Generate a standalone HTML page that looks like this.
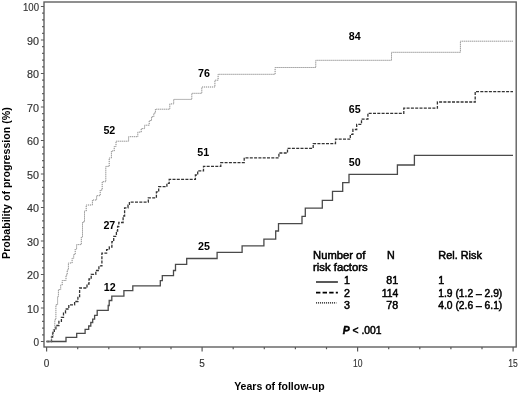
<!DOCTYPE html>
<html><head><meta charset="utf-8">
<style>
html,body{margin:0;padding:0;background:#fff;}
svg{display:block;font-family:"Liberation Sans",sans-serif;}
.tk{font-size:10px;fill:#333;stroke:#333;stroke-width:0.15;}
.lb{font-size:10.7px;font-weight:bold;fill:#000;}
.lg{font-size:10.7px;fill:#000;stroke:#000;stroke-width:0.5;}
.ax{font-size:10.6px;font-weight:bold;fill:#000;}
</style></head>
<body>
<svg width="520" height="393" viewBox="0 0 520 393">
<rect width="520" height="393" fill="#fff"/>
<!-- frame -->
<rect x="44" y="2" width="472.2" height="345" fill="none" stroke="#5a5a5a" stroke-width="1.35"/>
<g id="ticks" stroke="#5a5a5a" stroke-width="1.2" fill="none"><path d="M44,341.50h-3.1M44,334.80h-1.9M44,328.10h-1.9M44,321.40h-1.9M44,314.70h-1.9M44,308.00h-3.1M44,301.30h-1.9M44,294.60h-1.9M44,287.90h-1.9M44,281.20h-1.9M44,274.50h-3.1M44,267.80h-1.9M44,261.10h-1.9M44,254.40h-1.9M44,247.70h-1.9M44,241.00h-3.1M44,234.30h-1.9M44,227.60h-1.9M44,220.90h-1.9M44,214.20h-1.9M44,207.50h-3.1M44,200.80h-1.9M44,194.10h-1.9M44,187.40h-1.9M44,180.70h-1.9M44,174.00h-3.1M44,167.30h-1.9M44,160.60h-1.9M44,153.90h-1.9M44,147.20h-1.9M44,140.50h-3.1M44,133.80h-1.9M44,127.10h-1.9M44,120.40h-1.9M44,113.70h-1.9M44,107.00h-3.1M44,100.30h-1.9M44,93.60h-1.9M44,86.90h-1.9M44,80.20h-1.9M44,73.50h-3.1M44,66.80h-1.9M44,60.10h-1.9M44,53.40h-1.9M44,46.70h-1.9M44,40.00h-3.1M44,33.30h-1.9M44,26.60h-1.9M44,19.90h-1.9M44,13.20h-1.9M44,6.50h-3.1M46.60,347v4.4M77.70,347v2.3M108.80,347v2.3M139.90,347v2.3M171.00,347v2.3M202.10,347v4.4M233.20,347v2.3M264.30,347v2.3M295.40,347v2.3M326.50,347v2.3M357.60,347v4.4M388.70,347v2.3M419.80,347v2.3M450.90,347v2.3M482.00,347v2.3M513.10,347v4.4"/></g>
<g id="ylabels" class="tk" text-anchor="end">
<text x="39" y="11.1" textLength="16" lengthAdjust="spacingAndGlyphs">100</text>
<text x="39" y="44.6" textLength="12" lengthAdjust="spacingAndGlyphs">90</text>
<text x="39" y="78.1" textLength="12" lengthAdjust="spacingAndGlyphs">80</text>
<text x="39" y="111.6" textLength="12" lengthAdjust="spacingAndGlyphs">70</text>
<text x="39" y="145.1" textLength="12" lengthAdjust="spacingAndGlyphs">60</text>
<text x="39" y="178.6" textLength="12" lengthAdjust="spacingAndGlyphs">50</text>
<text x="39" y="212.1" textLength="12" lengthAdjust="spacingAndGlyphs">40</text>
<text x="39" y="245.6" textLength="12" lengthAdjust="spacingAndGlyphs">30</text>
<text x="39" y="279.1" textLength="12" lengthAdjust="spacingAndGlyphs">20</text>
<text x="39" y="312.6" textLength="12" lengthAdjust="spacingAndGlyphs">10</text>
<text x="39" y="345.6">0</text>
</g>
<g id="xlabels" class="tk" text-anchor="middle">
<text x="46.6" y="367">0</text>
<text x="202.1" y="367">5</text>
<text x="357.8" y="367" textLength="9.5" lengthAdjust="spacingAndGlyphs">10</text>
<text x="513" y="367" textLength="9.5" lengthAdjust="spacingAndGlyphs">15</text>
</g>
<text class="ax" x="234.2" y="389.8" textLength="90.5" lengthAdjust="spacingAndGlyphs">Years of follow-up</text>
<text class="ax" transform="translate(10.3,258.9) rotate(-90)" textLength="151.6" lengthAdjust="spacingAndGlyphs">Probability of progression (%)</text>

<!-- curves -->
<path id="c1" fill="none" stroke="#4a4a4a" stroke-width="1.3" d="M46.5,341.5 H66 V337.4 H76.7 V333.3 H85.1 V329.3 H88.7 V326 H90.8 V322.5 H92.7 V319.1 H94.6 V315.3 H97.2 V310.4 H108.2 V305.5 H109.2 V300.5 H111.8 V296.2 H123.9 V290.7 H132.8 V285.8 H160.3 V280.7 H162.3 V275.6 H173.5 V270.5 H175.5 V264.4 H186.7 V258.5 H217.1 V252.3 H242.1 V245.8 H263.9 V239.1 H275.7 V231 H278.5 V223.6 H302 V216.3 H305.3 V208.2 H322.3 V200.3 H332.5 V191.4 H342.7 V182.7 H349 V174.3 H397.4 V165 H414.4 V155.3 H513"/>
<path id="c2" fill="none" stroke="#333" stroke-width="1.3" stroke-dasharray="3 1.3" d="M46.5,341.5 H51.5 V337 H52.6 V333 H54.3 V328.8 H55.9 V325.5 H58.9 V321.4 H61.4 V317.3 H63.5 V313.1 H65.5 V309 H68.8 V304.8 H74.6 V301.5 H77.9 V296.6 H79.6 V288 H87 V284 H89 V279 H91.2 V274.3 H95.8 V270.5 H98.9 V265.9 H101.9 V253.2 H106.6 V249.7 H109.3 V247 H111.9 V241.7 H113.7 V236.3 H116.4 V231 H117.6 V226.5 H118.8 V222.5 H123.1 V216 H124.6 V207.8 H128 V205.1 H129.4 V202.1 H148.3 V197.8 H156.4 V191.9 H158.7 V186.7 H166.9 V183.3 H169.2 V179.4 H195.4 V175 H197.7 V170.8 H203.5 V166.3 H220.8 V162.7 H244.2 V157.8 H278.9 V153 H287.5 V148.3 H313.2 V143.7 H335.5 V139.2 H350.3 V134.3 H352.9 V129.5 H356.7 V124.4 H361.5 V119.1 H367.9 V113.3 H403.8 V108.2 H437.4 V102 H475.2 V91.6 H513"/>
<path id="c3" fill="none" stroke="#858585" stroke-width="1" stroke-dasharray="1.2 0.8" d="M46.5,341.5 H51.5 V336 H53.1 V329.7 H54.8 V319.7 H55.9 V304.8 H57.6 V296.6 H58.4 V289.6 H60.7 V285 H62.2 V280.5 H66 V275 H67.2 V270 H68.4 V263 H72.1 V258.3 H73.7 V254.5 H75.2 V249 H76.6 V244.6 H81.3 V236.9 H82.5 V222 H84.5 V211 H86.2 V205 H92.4 V200 H96.6 V195.7 H100.2 V190 H102.2 V181.7 H105.8 V166.4 H109.2 V158 H111.4 V151 H114.2 V146.5 H116 V141.2 H128.6 V136.7 H137.8 V132.1 H141.2 V128.6 H144.6 V125.2 H149.2 V120.6 H151.5 V116.8 H153.8 V113.1 H155.4 V109.2 H169.8 V103.9 H173.7 V99.4 H191.8 V93.3 H201.8 V87 H214.9 V80.2 H218.1 V74.3 H275.1 V67.5 H315.75 V60.3 H391.5 V52.3 H460.4 V41.2 H513"/>

<!-- curve labels -->
<g class="lb">
<text x="103.8" y="291.2">12</text>
<text x="103.4" y="228.7">27</text>
<text x="103.4" y="134.4">52</text>
<text x="198" y="249.6">25</text>
<text x="197.3" y="155.6">51</text>
<text x="198" y="77.2">76</text>
<text x="348.8" y="165.8">50</text>
<text x="348.8" y="113.3">65</text>
<text x="348.8" y="40.3">84</text>
</g>

<!-- legend -->
<g class="lg">
<text x="313.1" y="258.8" textLength="52.3" lengthAdjust="spacingAndGlyphs">Number of</text>
<text x="313.1" y="270.8" textLength="54.6" lengthAdjust="spacingAndGlyphs">risk factors</text>
<text x="344" y="283.5">1</text>
<text x="344" y="296.5">2</text>
<text x="344" y="308.6">3</text>
<text x="386.9" y="258.8">N</text>
<text x="398.2" y="283.5" text-anchor="end">81</text>
<text x="398.2" y="296.5" text-anchor="end" textLength="16.5" lengthAdjust="spacingAndGlyphs">114</text>
<text x="398.2" y="308.6" text-anchor="end">78</text>
<text x="438.3" y="258.6" textLength="43.6" lengthAdjust="spacingAndGlyphs">Rel. Risk</text>
<text x="438.3" y="283.5">1</text>
<text x="438.3" y="296.7" textLength="64" lengthAdjust="spacingAndGlyphs">1.9 (1.2 – 2.9)</text>
<text x="438.3" y="308.8" textLength="64" lengthAdjust="spacingAndGlyphs">4.0 (2.6 – 6.1)</text>
<text x="342.8" y="333.9" textLength="38.8" lengthAdjust="spacingAndGlyphs"><tspan font-weight="bold" font-style="italic">P</tspan> &lt; .001</text>
</g>
<line x1="316" y1="282" x2="337.9" y2="282" stroke="#222" stroke-width="1.5"/>
<line x1="316" y1="292.7" x2="337.9" y2="292.7" stroke="#000" stroke-width="1.8" stroke-dasharray="4.4 2.2"/>
<line x1="316" y1="302.9" x2="336.4" y2="302.9" stroke="#111" stroke-width="1.4" stroke-dasharray="1.1 0.9"/>
</svg>
</body></html>
